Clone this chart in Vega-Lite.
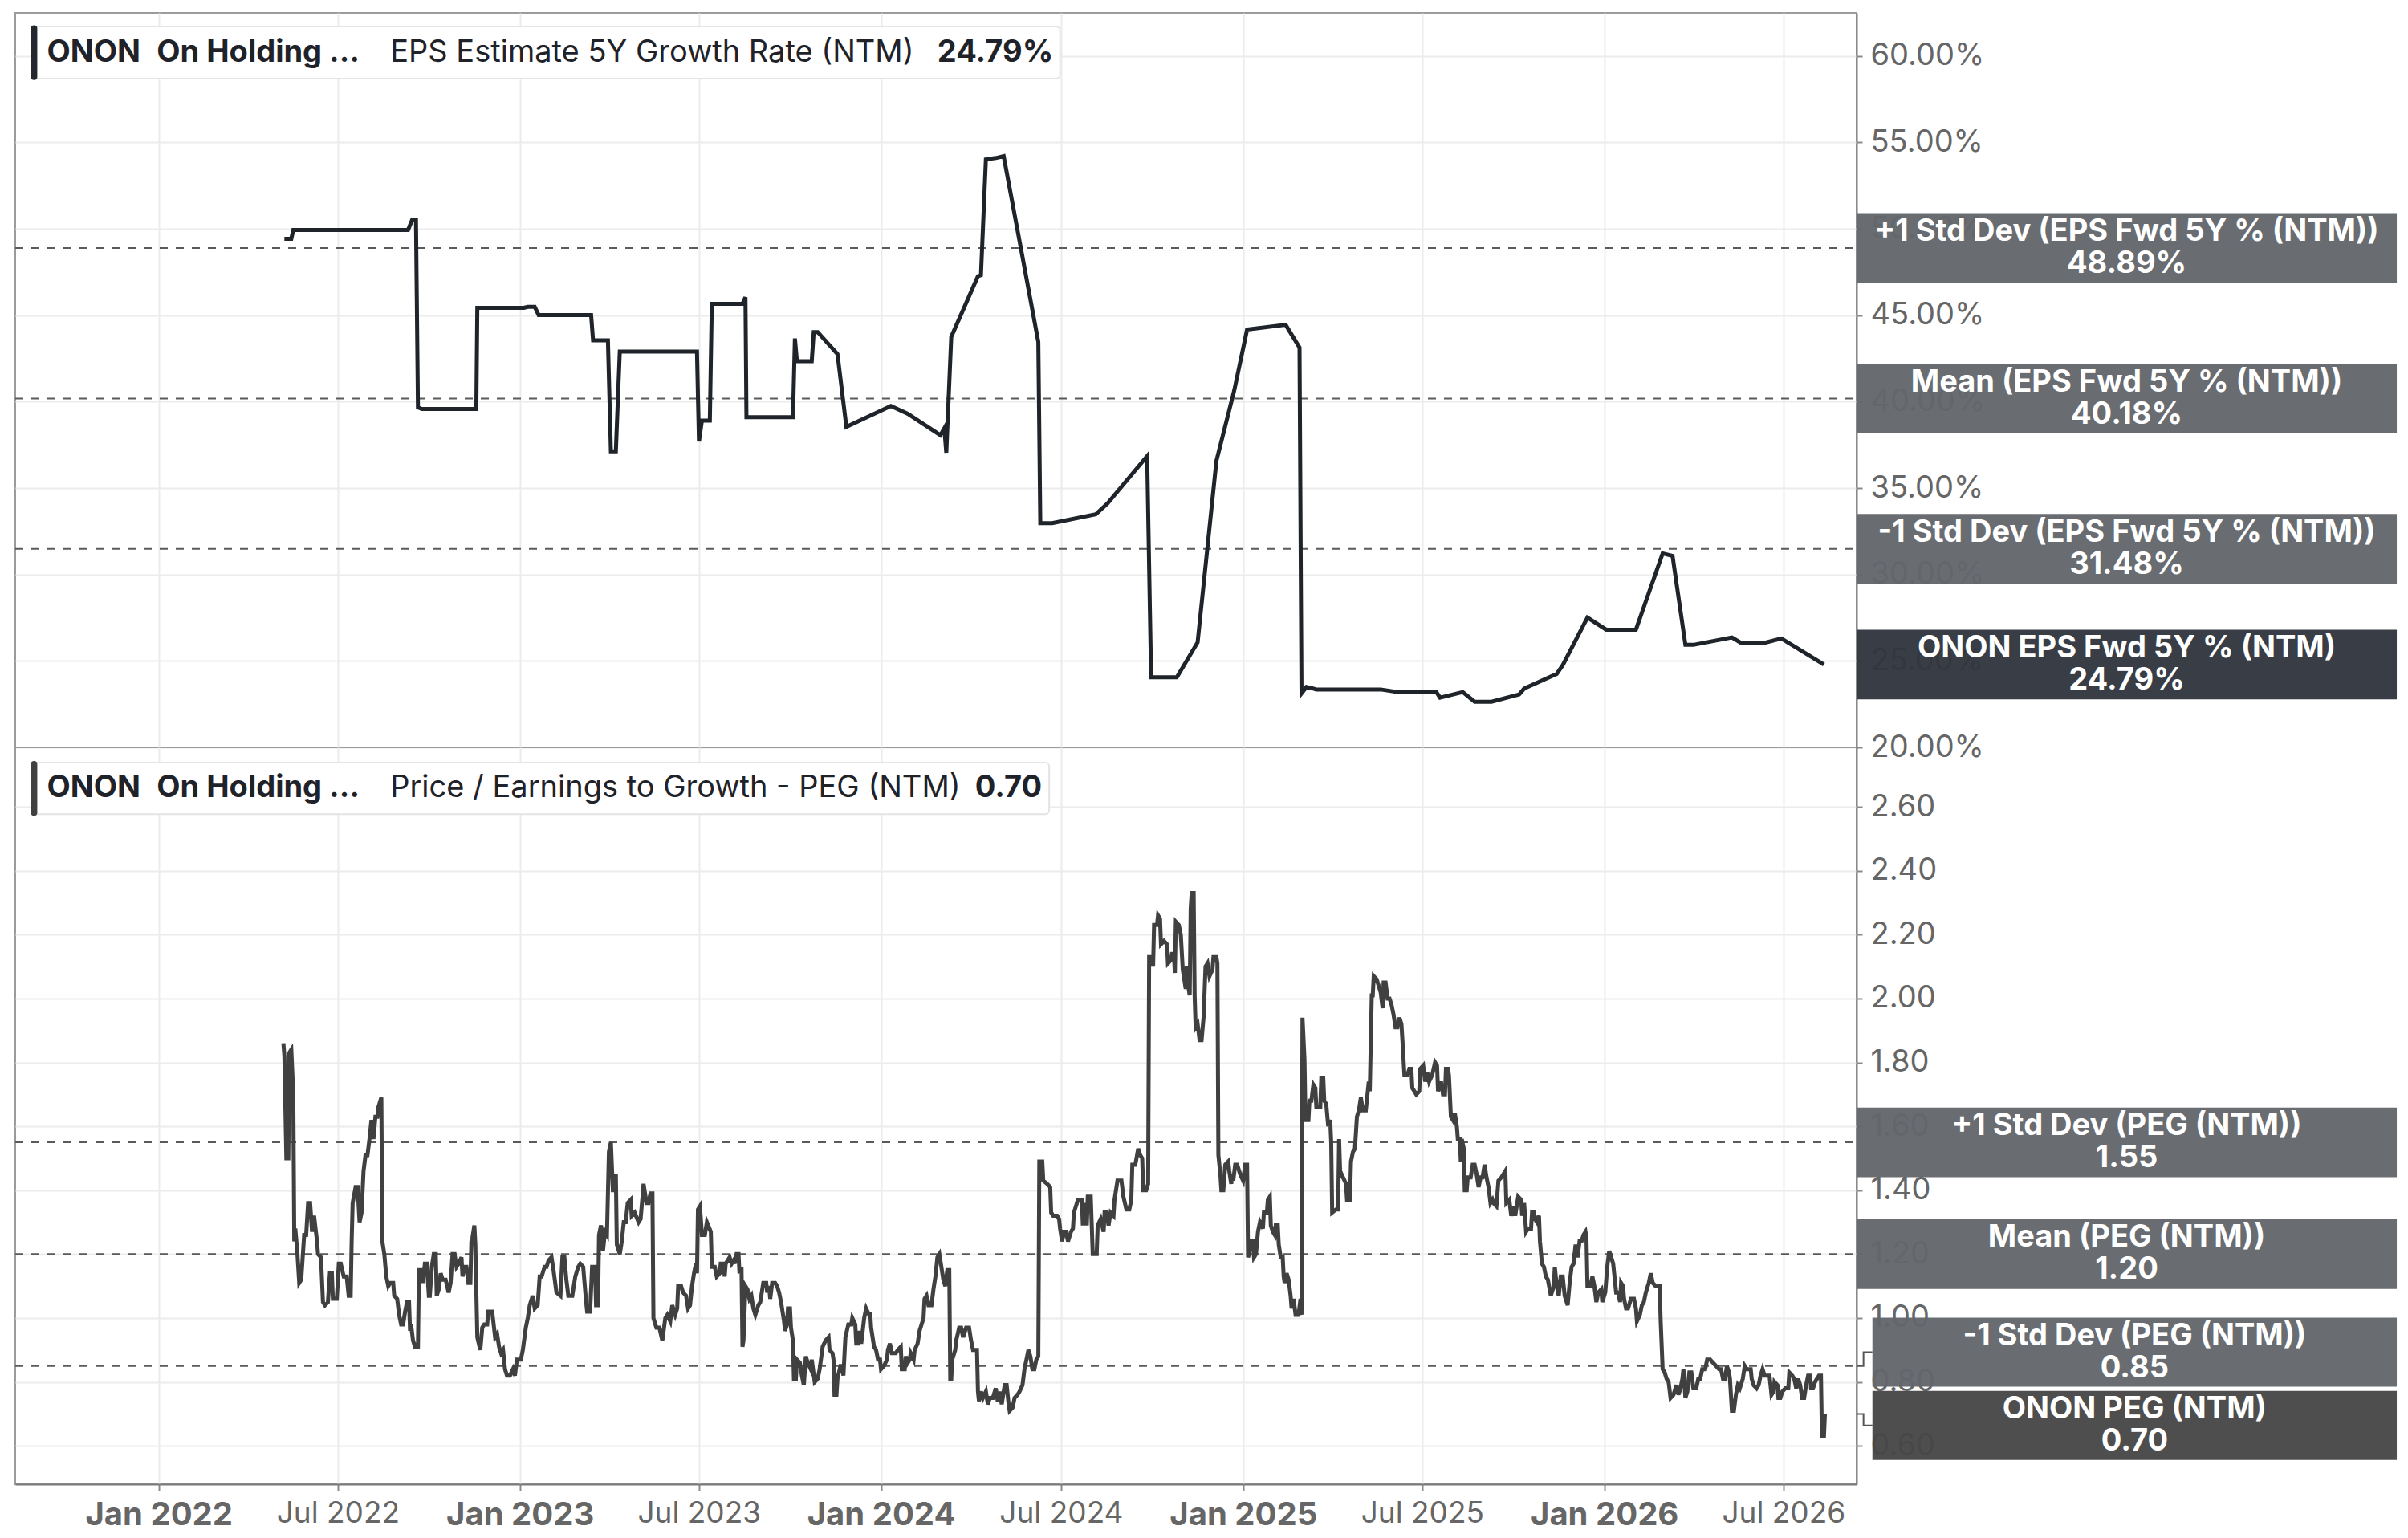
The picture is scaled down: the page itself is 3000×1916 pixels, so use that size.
{
  "$schema": "https://vega.github.io/schema/vega-lite/v6.json",
  "background": "white",
  "padding": {"left": 17, "top": 15, "right": 0, "bottom": 0},
  "autosize": {"type": "pad"},
  "spacing": 0,
  "bounds": "flush",
  "resolve": {"scale": {"x": "independent", "y": "independent"}},
  "config": {
    "font": "Inter",
    "view": {"stroke": "#9b9b9b", "strokeWidth": 2},
    "axis": {
      "labelFont": "Inter",
      "labelColor": "#666666",
      "labelFontSize": 38,
      "labelLimit": 0,
      "gridColor": "#ececec",
      "gridWidth": 2,
      "domainColor": "#7a7a7a",
      "domainWidth": 2,
      "tickColor": "#8a8a8a",
      "tickWidth": 2,
      "labelOverlap": false,
      "labelFlush": false
    }
  },
  "datasets": {
    "eps": [
      {"d":"2022-05-08","v":49.43},{"d":"2022-05-15","v":49.43},{"d":"2022-05-17","v":49.94},{"d":"2022-09-10","v":49.94},
      {"d":"2022-09-14","v":50.5},{"d":"2022-09-18","v":50.5},{"d":"2022-09-20","v":39.67},{"d":"2022-09-24","v":39.58},
      {"d":"2022-11-18","v":39.58},{"d":"2022-11-19","v":45.43},{"d":"2023-01-05","v":45.43},{"d":"2023-01-09","v":45.49},
      {"d":"2023-01-16","v":45.49},{"d":"2023-01-20","v":45.01},{"d":"2023-03-14","v":45.01},{"d":"2023-03-16","v":43.55},
      {"d":"2023-03-31","v":43.55},{"d":"2023-04-03","v":37.13},{"d":"2023-04-08","v":37.13},{"d":"2023-04-12","v":42.9},
      {"d":"2023-06-29","v":42.9},{"d":"2023-07-01","v":37.7},{"d":"2023-07-04","v":38.91},{"d":"2023-07-12","v":38.91},
      {"d":"2023-07-14","v":45.66},{"d":"2023-08-14","v":45.66},{"d":"2023-08-17","v":46.05},{"d":"2023-08-18","v":39.1},
      {"d":"2023-10-04","v":39.1},{"d":"2023-10-06","v":43.66},{"d":"2023-10-08","v":42.34},{"d":"2023-10-23","v":42.34},
      {"d":"2023-10-25","v":44.03},{"d":"2023-10-29","v":44.03},{"d":"2023-11-18","v":42.76},{"d":"2023-11-27","v":38.54},
      {"d":"2024-01-11","v":39.75},{"d":"2024-01-28","v":39.3},{"d":"2024-03-01","v":38.06},{"d":"2024-03-05","v":38.46},
      {"d":"2024-03-07","v":37.05},{"d":"2024-03-12","v":43.75},{"d":"2024-04-08","v":47.26},{"d":"2024-04-11","v":47.32},
      {"d":"2024-04-16","v":54.02},{"d":"2024-04-26","v":54.1},{"d":"2024-05-04","v":54.21},{"d":"2024-06-08","v":43.46},
      {"d":"2024-06-10","v":32.97},{"d":"2024-06-22","v":32.97},{"d":"2024-08-05","v":33.48},{"d":"2024-08-17","v":34.12},
      {"d":"2024-09-26","v":36.85},{"d":"2024-09-30","v":24.05},{"d":"2024-10-26","v":24.05},{"d":"2024-11-16","v":26.07},
      {"d":"2024-12-05","v":36.57},{"d":"2024-12-23","v":40.65},{"d":"2025-01-05","v":44.17},{"d":"2025-02-13","v":44.45},
      {"d":"2025-02-27","v":43.13},{"d":"2025-03-01","v":23.12},{"d":"2025-03-06","v":23.49},{"d":"2025-03-11","v":23.43},
      {"d":"2025-03-16","v":23.35},{"d":"2025-05-20","v":23.35},{"d":"2025-06-06","v":23.2},{"d":"2025-07-15","v":23.23},
      {"d":"2025-07-19","v":22.87},{"d":"2025-08-11","v":23.2},{"d":"2025-08-23","v":22.64},{"d":"2025-09-09","v":22.64},
      {"d":"2025-10-07","v":23.06},{"d":"2025-10-12","v":23.4},{"d":"2025-11-14","v":24.25},{"d":"2025-11-20","v":24.75},
      {"d":"2025-12-15","v":27.51},{"d":"2026-01-03","v":26.81},{"d":"2026-02-02","v":26.81},{"d":"2026-03-01","v":31.22},
      {"d":"2026-03-11","v":31.08},{"d":"2026-03-24","v":25.93},{"d":"2026-04-01","v":25.93},{"d":"2026-05-10","v":26.36},
      {"d":"2026-05-20","v":26.02},{"d":"2026-06-10","v":26.02},{"d":"2026-06-29","v":26.3},{"d":"2026-08-11","v":24.79}
    ],
    "peg": [
      {"d":"2022-05-07","v":1.86},{"d":"2022-05-08","v":1.82},{"d":"2022-05-10","v":1.5},{"d":"2022-05-12","v":1.5},
      {"d":"2022-05-13","v":1.83},{"d":"2022-05-15","v":1.84},{"d":"2022-05-17","v":1.7},{"d":"2022-05-18","v":1.24},
      {"d":"2022-05-19","v":1.28},{"d":"2022-05-21","v":1.21},{"d":"2022-05-23","v":1.11},{"d":"2022-05-25","v":1.12},
      {"d":"2022-05-28","v":1.26},{"d":"2022-05-30","v":1.26},{"d":"2022-06-01","v":1.36},{"d":"2022-06-03","v":1.36},
      {"d":"2022-06-05","v":1.27},{"d":"2022-06-07","v":1.32},{"d":"2022-06-10","v":1.24},{"d":"2022-06-11","v":1.2},
      {"d":"2022-06-14","v":1.19},{"d":"2022-06-16","v":1.05},{"d":"2022-06-18","v":1.04},{"d":"2022-06-21","v":1.05},
      {"d":"2022-06-23","v":1.14},{"d":"2022-06-25","v":1.14},{"d":"2022-06-26","v":1.06},{"d":"2022-06-30","v":1.06},
      {"d":"2022-07-02","v":1.17},{"d":"2022-07-04","v":1.17},{"d":"2022-07-07","v":1.13},{"d":"2022-07-10","v":1.13},
      {"d":"2022-07-12","v":1.07},{"d":"2022-07-14","v":1.07},{"d":"2022-07-15","v":1.24},{"d":"2022-07-16","v":1.36},
      {"d":"2022-07-19","v":1.41},{"d":"2022-07-21","v":1.41},{"d":"2022-07-23","v":1.3},{"d":"2022-07-25","v":1.33},
      {"d":"2022-07-27","v":1.46},{"d":"2022-07-29","v":1.51},{"d":"2022-07-31","v":1.51},{"d":"2022-08-02","v":1.56},
      {"d":"2022-08-04","v":1.62},{"d":"2022-08-06","v":1.56},{"d":"2022-08-08","v":1.63},{"d":"2022-08-10","v":1.63},
      {"d":"2022-08-11","v":1.66},{"d":"2022-08-14","v":1.69},{"d":"2022-08-15","v":1.24},{"d":"2022-08-17","v":1.2},
      {"d":"2022-08-19","v":1.13},{"d":"2022-08-21","v":1.1},{"d":"2022-08-23","v":1.11},{"d":"2022-08-26","v":1.11},
      {"d":"2022-08-27","v":1.07},{"d":"2022-08-30","v":1.06},{"d":"2022-09-01","v":1.01},{"d":"2022-09-03","v":0.98},
      {"d":"2022-09-05","v":0.98},{"d":"2022-09-07","v":1.02},{"d":"2022-09-09","v":1.05},{"d":"2022-09-11","v":1.05},
      {"d":"2022-09-12","v":0.96},{"d":"2022-09-13","v":0.98},{"d":"2022-09-15","v":0.93},{"d":"2022-09-17","v":0.91},
      {"d":"2022-09-20","v":0.91},{"d":"2022-09-21","v":1.15},{"d":"2022-09-24","v":1.15},{"d":"2022-09-25","v":1.11},
      {"d":"2022-09-27","v":1.17},{"d":"2022-09-29","v":1.17},{"d":"2022-10-01","v":1.07},{"d":"2022-10-02","v":1.07},
      {"d":"2022-10-04","v":1.16},{"d":"2022-10-06","v":1.2},{"d":"2022-10-08","v":1.2},{"d":"2022-10-09","v":1.07},
      {"d":"2022-10-11","v":1.09},{"d":"2022-10-13","v":1.14},{"d":"2022-10-15","v":1.12},{"d":"2022-10-18","v":1.12},
      {"d":"2022-10-21","v":1.08},{"d":"2022-10-23","v":1.11},{"d":"2022-10-25","v":1.2},{"d":"2022-10-27","v":1.2},
      {"d":"2022-10-29","v":1.16},{"d":"2022-10-31","v":1.17},{"d":"2022-11-03","v":1.19},{"d":"2022-11-04","v":1.13},
      {"d":"2022-11-06","v":1.16},{"d":"2022-11-08","v":1.16},{"d":"2022-11-10","v":1.11},{"d":"2022-11-12","v":1.11},
      {"d":"2022-11-13","v":1.24},{"d":"2022-11-14","v":1.25},{"d":"2022-11-16","v":1.29},{"d":"2022-11-17","v":1.23},
      {"d":"2022-11-19","v":0.94},{"d":"2022-11-22","v":0.9},{"d":"2022-11-24","v":0.97},{"d":"2022-11-26","v":0.98},
      {"d":"2022-11-29","v":0.98},{"d":"2022-11-30","v":1.02},{"d":"2022-12-04","v":1.02},{"d":"2022-12-07","v":0.94},
      {"d":"2022-12-09","v":0.95},{"d":"2022-12-11","v":0.91},{"d":"2022-12-13","v":0.89},{"d":"2022-12-15","v":0.9},
      {"d":"2022-12-17","v":0.84},{"d":"2022-12-19","v":0.82},{"d":"2022-12-22","v":0.82},{"d":"2022-12-25","v":0.84},
      {"d":"2022-12-27","v":0.82},{"d":"2022-12-29","v":0.87},{"d":"2023-01-02","v":0.87},{"d":"2023-01-04","v":0.9},
      {"d":"2023-01-07","v":0.97},{"d":"2023-01-09","v":1.0},{"d":"2023-01-11","v":1.04},{"d":"2023-01-14","v":1.07},
      {"d":"2023-01-16","v":1.03},{"d":"2023-01-19","v":1.04},{"d":"2023-01-21","v":1.13},{"d":"2023-01-23","v":1.13},
      {"d":"2023-01-26","v":1.16},{"d":"2023-01-28","v":1.16},{"d":"2023-01-30","v":1.18},{"d":"2023-02-02","v":1.19},
      {"d":"2023-02-04","v":1.15},{"d":"2023-02-07","v":1.08},{"d":"2023-02-11","v":1.07},{"d":"2023-02-13","v":1.19},
      {"d":"2023-02-15","v":1.19},{"d":"2023-02-17","v":1.12},{"d":"2023-02-19","v":1.07},{"d":"2023-02-23","v":1.07},
      {"d":"2023-02-26","v":1.13},{"d":"2023-03-01","v":1.16},{"d":"2023-03-03","v":1.17},{"d":"2023-03-06","v":1.16},
      {"d":"2023-03-09","v":1.05},{"d":"2023-03-10","v":1.02},{"d":"2023-03-13","v":1.02},{"d":"2023-03-15","v":1.16},
      {"d":"2023-03-18","v":1.16},{"d":"2023-03-19","v":1.04},{"d":"2023-03-21","v":1.04},{"d":"2023-03-22","v":1.26},
      {"d":"2023-03-24","v":1.29},{"d":"2023-03-26","v":1.21},{"d":"2023-03-28","v":1.27},{"d":"2023-03-30","v":1.26},
      {"d":"2023-04-01","v":1.52},{"d":"2023-04-03","v":1.55},{"d":"2023-04-05","v":1.4},{"d":"2023-04-07","v":1.4},
      {"d":"2023-04-08","v":1.45},{"d":"2023-04-09","v":1.23},{"d":"2023-04-12","v":1.2},{"d":"2023-04-14","v":1.24},
      {"d":"2023-04-16","v":1.3},{"d":"2023-04-18","v":1.3},{"d":"2023-04-20","v":1.36},{"d":"2023-04-23","v":1.37},
      {"d":"2023-04-24","v":1.32},{"d":"2023-04-27","v":1.33},{"d":"2023-05-01","v":1.3},{"d":"2023-05-03","v":1.31},
      {"d":"2023-05-05","v":1.38},{"d":"2023-05-06","v":1.42},{"d":"2023-05-09","v":1.36},{"d":"2023-05-11","v":1.36},
      {"d":"2023-05-13","v":1.39},{"d":"2023-05-15","v":1.39},{"d":"2023-05-16","v":1.0},{"d":"2023-05-19","v":0.97},
      {"d":"2023-05-22","v":0.97},{"d":"2023-05-25","v":0.93},{"d":"2023-05-28","v":1.0},{"d":"2023-05-30","v":1.01},
      {"d":"2023-06-02","v":0.99},{"d":"2023-06-04","v":1.04},{"d":"2023-06-07","v":1.01},{"d":"2023-06-09","v":1.03},
      {"d":"2023-06-10","v":1.1},{"d":"2023-06-13","v":1.1},{"d":"2023-06-15","v":1.08},{"d":"2023-06-18","v":1.07},
      {"d":"2023-06-20","v":1.03},{"d":"2023-06-22","v":1.04},{"d":"2023-06-24","v":1.1},{"d":"2023-06-26","v":1.14},
      {"d":"2023-06-28","v":1.17},{"d":"2023-06-29","v":1.14},{"d":"2023-06-30","v":1.34},{"d":"2023-07-02","v":1.35},
      {"d":"2023-07-04","v":1.26},{"d":"2023-07-07","v":1.26},{"d":"2023-07-09","v":1.3},{"d":"2023-07-13","v":1.27},
      {"d":"2023-07-14","v":1.16},{"d":"2023-07-17","v":1.16},{"d":"2023-07-19","v":1.13},{"d":"2023-07-22","v":1.14},
      {"d":"2023-07-23","v":1.17},{"d":"2023-07-26","v":1.17},{"d":"2023-07-27","v":1.13},{"d":"2023-07-28","v":1.17},
      {"d":"2023-08-01","v":1.19},{"d":"2023-08-03","v":1.17},{"d":"2023-08-05","v":1.18},{"d":"2023-08-06","v":1.17},
      {"d":"2023-08-08","v":1.2},{"d":"2023-08-10","v":1.2},{"d":"2023-08-11","v":1.14},{"d":"2023-08-13","v":1.16},
      {"d":"2023-08-14","v":0.91},{"d":"2023-08-15","v":0.93},{"d":"2023-08-17","v":1.1},{"d":"2023-08-19","v":1.09},
      {"d":"2023-08-21","v":1.06},{"d":"2023-08-23","v":1.07},{"d":"2023-08-25","v":1.03},{"d":"2023-08-27","v":1.01},
      {"d":"2023-08-30","v":1.04},{"d":"2023-09-01","v":1.05},{"d":"2023-09-04","v":1.11},{"d":"2023-09-07","v":1.11},
      {"d":"2023-09-08","v":1.08},{"d":"2023-09-10","v":1.1},{"d":"2023-09-11","v":1.06},{"d":"2023-09-13","v":1.11},
      {"d":"2023-09-16","v":1.11},{"d":"2023-09-18","v":1.1},{"d":"2023-09-20","v":1.08},{"d":"2023-09-22","v":1.05},
      {"d":"2023-09-25","v":0.99},{"d":"2023-09-26","v":0.96},{"d":"2023-09-28","v":0.98},{"d":"2023-09-29","v":1.03},
      {"d":"2023-10-01","v":1.03},{"d":"2023-10-02","v":0.97},{"d":"2023-10-04","v":0.93},{"d":"2023-10-05","v":0.81},
      {"d":"2023-10-07","v":0.81},{"d":"2023-10-08","v":0.87},{"d":"2023-10-11","v":0.86},{"d":"2023-10-13","v":0.82},
      {"d":"2023-10-15","v":0.79},{"d":"2023-10-17","v":0.88},{"d":"2023-10-19","v":0.86},{"d":"2023-10-22","v":0.84},
      {"d":"2023-10-23","v":0.87},{"d":"2023-10-26","v":0.8},{"d":"2023-10-29","v":0.81},{"d":"2023-10-31","v":0.84},
      {"d":"2023-11-03","v":0.91},{"d":"2023-11-06","v":0.93},{"d":"2023-11-09","v":0.94},{"d":"2023-11-10","v":0.9},
      {"d":"2023-11-13","v":0.89},{"d":"2023-11-14","v":0.87},{"d":"2023-11-15","v":0.76},{"d":"2023-11-17","v":0.76},
      {"d":"2023-11-18","v":0.81},{"d":"2023-11-21","v":0.85},{"d":"2023-11-23","v":0.85},{"d":"2023-11-24","v":0.82},
      {"d":"2023-11-26","v":0.94},{"d":"2023-11-29","v":0.98},{"d":"2023-12-02","v":0.98},{"d":"2023-12-03","v":1.0},
      {"d":"2023-12-06","v":0.98},{"d":"2023-12-07","v":0.92},{"d":"2023-12-09","v":0.92},{"d":"2023-12-10","v":0.96},
      {"d":"2023-12-12","v":0.92},{"d":"2023-12-15","v":1.0},{"d":"2023-12-17","v":1.03},{"d":"2023-12-20","v":1.01},
      {"d":"2023-12-21","v":1.02},{"d":"2023-12-22","v":0.97},{"d":"2023-12-25","v":0.91},{"d":"2023-12-27","v":0.9},
      {"d":"2023-12-29","v":0.87},{"d":"2023-12-31","v":0.87},{"d":"2024-01-01","v":0.84},{"d":"2024-01-04","v":0.85},
      {"d":"2024-01-07","v":0.87},{"d":"2024-01-08","v":0.9},{"d":"2024-01-10","v":0.92},{"d":"2024-01-12","v":0.89},
      {"d":"2024-01-16","v":0.89},{"d":"2024-01-18","v":0.9},{"d":"2024-01-21","v":0.91},{"d":"2024-01-22","v":0.84},
      {"d":"2024-01-25","v":0.84},{"d":"2024-01-26","v":0.88},{"d":"2024-01-28","v":0.86},{"d":"2024-01-30","v":0.87},
      {"d":"2024-01-31","v":0.89},{"d":"2024-02-03","v":0.87},{"d":"2024-02-04","v":0.9},{"d":"2024-02-07","v":0.92},
      {"d":"2024-02-09","v":0.96},{"d":"2024-02-11","v":0.98},{"d":"2024-02-13","v":1.0},{"d":"2024-02-14","v":1.06},
      {"d":"2024-02-16","v":1.07},{"d":"2024-02-18","v":1.04},{"d":"2024-02-21","v":1.04},{"d":"2024-02-23","v":1.09},
      {"d":"2024-02-25","v":1.13},{"d":"2024-02-27","v":1.19},{"d":"2024-02-29","v":1.2},{"d":"2024-03-01","v":1.18},
      {"d":"2024-03-04","v":1.12},{"d":"2024-03-06","v":1.1},{"d":"2024-03-08","v":1.15},{"d":"2024-03-10","v":1.15},
      {"d":"2024-03-11","v":0.81},{"d":"2024-03-12","v":0.81},{"d":"2024-03-13","v":0.87},{"d":"2024-03-16","v":0.9},
      {"d":"2024-03-17","v":0.93},{"d":"2024-03-20","v":0.97},{"d":"2024-03-22","v":0.97},{"d":"2024-03-24","v":0.94},
      {"d":"2024-03-27","v":0.97},{"d":"2024-03-30","v":0.97},{"d":"2024-04-01","v":0.93},{"d":"2024-04-03","v":0.9},
      {"d":"2024-04-07","v":0.9},{"d":"2024-04-08","v":0.77},{"d":"2024-04-09","v":0.74},{"d":"2024-04-11","v":0.77},
      {"d":"2024-04-13","v":0.75},{"d":"2024-04-16","v":0.77},{"d":"2024-04-18","v":0.73},{"d":"2024-04-20","v":0.75},
      {"d":"2024-04-23","v":0.75},{"d":"2024-04-26","v":0.78},{"d":"2024-04-28","v":0.74},{"d":"2024-04-30","v":0.77},
      {"d":"2024-05-02","v":0.73},{"d":"2024-05-05","v":0.79},{"d":"2024-05-07","v":0.79},{"d":"2024-05-09","v":0.73},
      {"d":"2024-05-10","v":0.71},{"d":"2024-05-13","v":0.72},{"d":"2024-05-15","v":0.75},{"d":"2024-05-18","v":0.76},
      {"d":"2024-05-20","v":0.77},{"d":"2024-05-23","v":0.79},{"d":"2024-05-25","v":0.84},{"d":"2024-05-27","v":0.87},
      {"d":"2024-05-29","v":0.9},{"d":"2024-05-31","v":0.88},{"d":"2024-06-02","v":0.84},{"d":"2024-06-04","v":0.84},
      {"d":"2024-06-06","v":0.87},{"d":"2024-06-08","v":0.88},{"d":"2024-06-09","v":1.49},{"d":"2024-06-12","v":1.49},
      {"d":"2024-06-13","v":1.43},{"d":"2024-06-17","v":1.42},{"d":"2024-06-20","v":1.41},{"d":"2024-06-21","v":1.33},
      {"d":"2024-06-23","v":1.32},{"d":"2024-06-27","v":1.32},{"d":"2024-06-29","v":1.31},{"d":"2024-06-30","v":1.28},
      {"d":"2024-07-02","v":1.24},{"d":"2024-07-04","v":1.27},{"d":"2024-07-06","v":1.27},{"d":"2024-07-08","v":1.24},
      {"d":"2024-07-11","v":1.27},{"d":"2024-07-13","v":1.28},{"d":"2024-07-14","v":1.33},{"d":"2024-07-17","v":1.36},
      {"d":"2024-07-18","v":1.37},{"d":"2024-07-22","v":1.37},{"d":"2024-07-23","v":1.29},{"d":"2024-07-25","v":1.36},
      {"d":"2024-07-27","v":1.29},{"d":"2024-07-28","v":1.38},{"d":"2024-07-31","v":1.38},{"d":"2024-08-02","v":1.2},
      {"d":"2024-08-06","v":1.2},{"d":"2024-08-07","v":1.29},{"d":"2024-08-10","v":1.31},{"d":"2024-08-13","v":1.27},
      {"d":"2024-08-14","v":1.33},{"d":"2024-08-16","v":1.33},{"d":"2024-08-18","v":1.29},{"d":"2024-08-20","v":1.33},
      {"d":"2024-08-23","v":1.32},{"d":"2024-08-24","v":1.37},{"d":"2024-08-27","v":1.43},{"d":"2024-08-31","v":1.43},
      {"d":"2024-09-02","v":1.38},{"d":"2024-09-05","v":1.34},{"d":"2024-09-08","v":1.34},{"d":"2024-09-10","v":1.37},
      {"d":"2024-09-11","v":1.48},{"d":"2024-09-14","v":1.48},{"d":"2024-09-17","v":1.53},{"d":"2024-09-19","v":1.51},
      {"d":"2024-09-21","v":1.5},{"d":"2024-09-22","v":1.4},{"d":"2024-09-25","v":1.4},{"d":"2024-09-27","v":1.42},
      {"d":"2024-09-28","v":2.13},{"d":"2024-10-01","v":2.13},{"d":"2024-10-02","v":2.1},{"d":"2024-10-03","v":2.23},
      {"d":"2024-10-06","v":2.23},{"d":"2024-10-07","v":2.26},{"d":"2024-10-09","v":2.25},{"d":"2024-10-10","v":2.17},
      {"d":"2024-10-13","v":2.18},{"d":"2024-10-16","v":2.17},{"d":"2024-10-17","v":2.11},{"d":"2024-10-20","v":2.12},
      {"d":"2024-10-21","v":2.14},{"d":"2024-10-23","v":2.14},{"d":"2024-10-24","v":2.08},{"d":"2024-10-25","v":2.24},
      {"d":"2024-10-28","v":2.23},{"d":"2024-10-30","v":2.2},{"d":"2024-11-01","v":2.09},{"d":"2024-11-04","v":2.03},
      {"d":"2024-11-05","v":2.1},{"d":"2024-11-06","v":2.05},{"d":"2024-11-08","v":2.01},{"d":"2024-11-09","v":2.28},
      {"d":"2024-11-10","v":2.33},{"d":"2024-11-12","v":2.33},{"d":"2024-11-13","v":2.01},{"d":"2024-11-14","v":1.91},
      {"d":"2024-11-16","v":1.92},{"d":"2024-11-18","v":1.87},{"d":"2024-11-20","v":1.87},{"d":"2024-11-22","v":1.94},
      {"d":"2024-11-24","v":2.1},{"d":"2024-11-26","v":2.11},{"d":"2024-11-28","v":2.07},{"d":"2024-12-01","v":2.09},
      {"d":"2024-12-02","v":2.13},{"d":"2024-12-05","v":2.13},{"d":"2024-12-06","v":2.11},{"d":"2024-12-07","v":1.51},
      {"d":"2024-12-09","v":1.45},{"d":"2024-12-10","v":1.4},{"d":"2024-12-12","v":1.4},{"d":"2024-12-14","v":1.48},
      {"d":"2024-12-17","v":1.49},{"d":"2024-12-18","v":1.46},{"d":"2024-12-20","v":1.42},{"d":"2024-12-21","v":1.45},
      {"d":"2024-12-22","v":1.43},{"d":"2024-12-24","v":1.48},{"d":"2024-12-26","v":1.48},{"d":"2024-12-29","v":1.45},
      {"d":"2025-01-01","v":1.43},{"d":"2025-01-03","v":1.48},{"d":"2025-01-05","v":1.48},{"d":"2025-01-06","v":1.19},
      {"d":"2025-01-07","v":1.2},{"d":"2025-01-09","v":1.24},{"d":"2025-01-11","v":1.24},{"d":"2025-01-12","v":1.19},
      {"d":"2025-01-14","v":1.2},{"d":"2025-01-16","v":1.27},{"d":"2025-01-18","v":1.3},{"d":"2025-01-21","v":1.28},
      {"d":"2025-01-22","v":1.33},{"d":"2025-01-25","v":1.33},{"d":"2025-01-26","v":1.37},{"d":"2025-01-28","v":1.38},
      {"d":"2025-01-29","v":1.29},{"d":"2025-01-31","v":1.27},{"d":"2025-02-02","v":1.26},{"d":"2025-02-03","v":1.29},
      {"d":"2025-02-05","v":1.29},{"d":"2025-02-06","v":1.23},{"d":"2025-02-08","v":1.19},{"d":"2025-02-10","v":1.19},
      {"d":"2025-02-11","v":1.13},{"d":"2025-02-12","v":1.11},{"d":"2025-02-14","v":1.14},{"d":"2025-02-16","v":1.12},
      {"d":"2025-02-18","v":1.07},{"d":"2025-02-19","v":1.03},{"d":"2025-02-21","v":1.06},{"d":"2025-02-23","v":1.01},
      {"d":"2025-02-26","v":1.01},{"d":"2025-02-28","v":1.06},{"d":"2025-03-01","v":1.01},{"d":"2025-03-02","v":1.94},
      {"d":"2025-03-04","v":1.81},{"d":"2025-03-05","v":1.62},{"d":"2025-03-08","v":1.62},{"d":"2025-03-09","v":1.68},
      {"d":"2025-03-11","v":1.68},{"d":"2025-03-13","v":1.73},{"d":"2025-03-15","v":1.72},{"d":"2025-03-16","v":1.66},
      {"d":"2025-03-20","v":1.66},{"d":"2025-03-21","v":1.75},{"d":"2025-03-23","v":1.75},{"d":"2025-03-24","v":1.68},
      {"d":"2025-03-26","v":1.67},{"d":"2025-03-28","v":1.6},{"d":"2025-03-30","v":1.62},{"d":"2025-03-31","v":1.55},
      {"d":"2025-04-01","v":1.33},{"d":"2025-04-05","v":1.34},{"d":"2025-04-07","v":1.34},{"d":"2025-04-08","v":1.56},
      {"d":"2025-04-09","v":1.46},{"d":"2025-04-12","v":1.44},{"d":"2025-04-15","v":1.42},{"d":"2025-04-16","v":1.37},
      {"d":"2025-04-19","v":1.37},{"d":"2025-04-20","v":1.49},{"d":"2025-04-22","v":1.52},{"d":"2025-04-24","v":1.53},
      {"d":"2025-04-26","v":1.63},{"d":"2025-04-28","v":1.65},{"d":"2025-04-30","v":1.69},{"d":"2025-05-02","v":1.65},
      {"d":"2025-05-05","v":1.65},{"d":"2025-05-06","v":1.68},{"d":"2025-05-08","v":1.74},{"d":"2025-05-09","v":1.71},
      {"d":"2025-05-11","v":2.01},{"d":"2025-05-12","v":2.01},{"d":"2025-05-13","v":2.07},{"d":"2025-05-16","v":2.06},
      {"d":"2025-05-18","v":2.04},{"d":"2025-05-20","v":2.02},{"d":"2025-05-22","v":1.97},{"d":"2025-05-23","v":2.05},
      {"d":"2025-05-25","v":2.05},{"d":"2025-05-27","v":2.0},{"d":"2025-05-29","v":2.0},{"d":"2025-05-31","v":1.98},
      {"d":"2025-06-02","v":1.95},{"d":"2025-06-04","v":1.91},{"d":"2025-06-06","v":1.91},{"d":"2025-06-08","v":1.94},
      {"d":"2025-06-10","v":1.92},{"d":"2025-06-11","v":1.87},{"d":"2025-06-13","v":1.76},{"d":"2025-06-16","v":1.76},
      {"d":"2025-06-18","v":1.78},{"d":"2025-06-20","v":1.78},{"d":"2025-06-21","v":1.72},{"d":"2025-06-25","v":1.7},
      {"d":"2025-06-28","v":1.71},{"d":"2025-06-29","v":1.78},{"d":"2025-07-02","v":1.79},{"d":"2025-07-04","v":1.74},
      {"d":"2025-07-06","v":1.77},{"d":"2025-07-08","v":1.74},{"d":"2025-07-11","v":1.76},{"d":"2025-07-14","v":1.8},
      {"d":"2025-07-16","v":1.79},{"d":"2025-07-17","v":1.71},{"d":"2025-07-20","v":1.74},{"d":"2025-07-22","v":1.7},
      {"d":"2025-07-24","v":1.7},{"d":"2025-07-25","v":1.78},{"d":"2025-07-27","v":1.78},{"d":"2025-07-28","v":1.76},
      {"d":"2025-07-30","v":1.63},{"d":"2025-08-01","v":1.62},{"d":"2025-08-03","v":1.64},{"d":"2025-08-05","v":1.6},
      {"d":"2025-08-06","v":1.56},{"d":"2025-08-08","v":1.56},{"d":"2025-08-09","v":1.49},{"d":"2025-08-10","v":1.56},
      {"d":"2025-08-12","v":1.53},{"d":"2025-08-13","v":1.4},{"d":"2025-08-15","v":1.4},{"d":"2025-08-16","v":1.44},
      {"d":"2025-08-19","v":1.44},{"d":"2025-08-21","v":1.48},{"d":"2025-08-23","v":1.48},{"d":"2025-08-25","v":1.45},
      {"d":"2025-08-27","v":1.41},{"d":"2025-08-29","v":1.44},{"d":"2025-08-31","v":1.44},{"d":"2025-09-02","v":1.48},
      {"d":"2025-09-04","v":1.44},{"d":"2025-09-06","v":1.41},{"d":"2025-09-08","v":1.36},{"d":"2025-09-10","v":1.37},
      {"d":"2025-09-11","v":1.36},{"d":"2025-09-14","v":1.35},{"d":"2025-09-16","v":1.43},{"d":"2025-09-19","v":1.44},
      {"d":"2025-09-23","v":1.46},{"d":"2025-09-24","v":1.36},{"d":"2025-09-27","v":1.37},{"d":"2025-09-29","v":1.32},
      {"d":"2025-10-02","v":1.35},{"d":"2025-10-03","v":1.32},{"d":"2025-10-06","v":1.38},{"d":"2025-10-09","v":1.37},
      {"d":"2025-10-10","v":1.32},{"d":"2025-10-12","v":1.36},{"d":"2025-10-14","v":1.27},{"d":"2025-10-16","v":1.28},
      {"d":"2025-10-19","v":1.28},{"d":"2025-10-20","v":1.33},{"d":"2025-10-22","v":1.33},{"d":"2025-10-23","v":1.31},
      {"d":"2025-10-25","v":1.3},{"d":"2025-10-27","v":1.32},{"d":"2025-10-28","v":1.24},{"d":"2025-10-30","v":1.17},
      {"d":"2025-11-01","v":1.16},{"d":"2025-11-03","v":1.13},{"d":"2025-11-05","v":1.12},{"d":"2025-11-08","v":1.07},
      {"d":"2025-11-11","v":1.1},{"d":"2025-11-12","v":1.16},{"d":"2025-11-14","v":1.1},{"d":"2025-11-16","v":1.07},
      {"d":"2025-11-18","v":1.13},{"d":"2025-11-20","v":1.13},{"d":"2025-11-22","v":1.07},{"d":"2025-11-25","v":1.04},
      {"d":"2025-11-27","v":1.11},{"d":"2025-11-29","v":1.16},{"d":"2025-12-01","v":1.17},{"d":"2025-12-03","v":1.23},
      {"d":"2025-12-05","v":1.19},{"d":"2025-12-07","v":1.24},{"d":"2025-12-09","v":1.24},{"d":"2025-12-11","v":1.26},
      {"d":"2025-12-13","v":1.27},{"d":"2025-12-14","v":1.25},{"d":"2025-12-15","v":1.1},{"d":"2025-12-18","v":1.1},
      {"d":"2025-12-20","v":1.13},{"d":"2025-12-22","v":1.1},{"d":"2025-12-24","v":1.05},{"d":"2025-12-26","v":1.08},
      {"d":"2025-12-29","v":1.09},{"d":"2025-12-30","v":1.05},{"d":"2026-01-02","v":1.08},{"d":"2026-01-04","v":1.16},
      {"d":"2026-01-06","v":1.21},{"d":"2026-01-08","v":1.19},{"d":"2026-01-10","v":1.17},{"d":"2026-01-12","v":1.11},
      {"d":"2026-01-13","v":1.08},{"d":"2026-01-15","v":1.08},{"d":"2026-01-17","v":1.05},{"d":"2026-01-18","v":1.11},
      {"d":"2026-01-20","v":1.1},{"d":"2026-01-21","v":1.06},{"d":"2026-01-23","v":1.03},{"d":"2026-01-25","v":1.03},
      {"d":"2026-01-28","v":1.06},{"d":"2026-01-31","v":1.06},{"d":"2026-02-02","v":1.03},{"d":"2026-02-03","v":0.99},
      {"d":"2026-02-06","v":1.01},{"d":"2026-02-08","v":1.04},{"d":"2026-02-10","v":1.05},{"d":"2026-02-12","v":1.08},
      {"d":"2026-02-15","v":1.11},{"d":"2026-02-17","v":1.14},{"d":"2026-02-19","v":1.11},{"d":"2026-02-22","v":1.1},
      {"d":"2026-02-24","v":1.1},{"d":"2026-02-26","v":1.1},{"d":"2026-02-27","v":0.99},{"d":"2026-03-01","v":0.84},
      {"d":"2026-03-03","v":0.83},{"d":"2026-03-05","v":0.81},{"d":"2026-03-07","v":0.8},{"d":"2026-03-09","v":0.75},
      {"d":"2026-03-12","v":0.76},{"d":"2026-03-15","v":0.79},{"d":"2026-03-17","v":0.76},{"d":"2026-03-19","v":0.78},
      {"d":"2026-03-21","v":0.81},{"d":"2026-03-22","v":0.84},{"d":"2026-03-24","v":0.75},{"d":"2026-03-26","v":0.77},
      {"d":"2026-03-28","v":0.83},{"d":"2026-03-30","v":0.83},{"d":"2026-04-01","v":0.78},{"d":"2026-04-04","v":0.78},
      {"d":"2026-04-06","v":0.81},{"d":"2026-04-08","v":0.81},{"d":"2026-04-10","v":0.84},{"d":"2026-04-13","v":0.84},
      {"d":"2026-04-15","v":0.87},{"d":"2026-04-18","v":0.87},{"d":"2026-04-21","v":0.86},{"d":"2026-04-24","v":0.85},
      {"d":"2026-04-27","v":0.84},{"d":"2026-04-29","v":0.84},{"d":"2026-05-01","v":0.81},{"d":"2026-05-03","v":0.81},
      {"d":"2026-05-05","v":0.85},{"d":"2026-05-07","v":0.83},{"d":"2026-05-08","v":0.81},{"d":"2026-05-10","v":0.71},
      {"d":"2026-05-12","v":0.71},{"d":"2026-05-14","v":0.76},{"d":"2026-05-16","v":0.79},{"d":"2026-05-18","v":0.78},
      {"d":"2026-05-21","v":0.81},{"d":"2026-05-23","v":0.85},{"d":"2026-05-25","v":0.84},{"d":"2026-05-29","v":0.84},
      {"d":"2026-05-30","v":0.81},{"d":"2026-06-01","v":0.79},{"d":"2026-06-04","v":0.78},{"d":"2026-06-06","v":0.79},
      {"d":"2026-06-08","v":0.82},{"d":"2026-06-10","v":0.84},{"d":"2026-06-12","v":0.82},{"d":"2026-06-15","v":0.82},
      {"d":"2026-06-17","v":0.82},{"d":"2026-06-19","v":0.76},{"d":"2026-06-21","v":0.77},{"d":"2026-06-22","v":0.8},
      {"d":"2026-06-25","v":0.79},{"d":"2026-06-26","v":0.75},{"d":"2026-06-28","v":0.75},{"d":"2026-06-30","v":0.77},
      {"d":"2026-07-03","v":0.78},{"d":"2026-07-06","v":0.78},{"d":"2026-07-07","v":0.83},{"d":"2026-07-10","v":0.82},
      {"d":"2026-07-12","v":0.81},{"d":"2026-07-14","v":0.78},{"d":"2026-07-16","v":0.81},{"d":"2026-07-18","v":0.79},
      {"d":"2026-07-20","v":0.75},{"d":"2026-07-22","v":0.75},{"d":"2026-07-24","v":0.79},{"d":"2026-07-26","v":0.82},
      {"d":"2026-07-28","v":0.82},{"d":"2026-07-29","v":0.78},{"d":"2026-07-31","v":0.78},{"d":"2026-08-02","v":0.8},
      {"d":"2026-08-04","v":0.81},{"d":"2026-08-06","v":0.82},{"d":"2026-08-08","v":0.82},{"d":"2026-08-09","v":0.63},
      {"d":"2026-08-11","v":0.63},{"d":"2026-08-12","v":0.7}
    ],
    "eps_stats": [
      {"d":"2021-08-09","d2":"2026-09-13","v":48.89},
      {"d":"2021-08-09","d2":"2026-09-13","v":40.18},
      {"d":"2021-08-09","d2":"2026-09-13","v":31.48}
    ],
    "peg_stats": [
      {"d":"2021-08-09","d2":"2026-09-13","v":1.55},
      {"d":"2021-08-09","d2":"2026-09-13","v":1.2},
      {"d":"2021-08-09","d2":"2026-09-13","v":0.85}
    ],
    "eps_boxes": [
      {"d":"2026-09-13","d2":"2028-03-12","v":46.87,"v2":50.91,"c":"#63666b"},
      {"d":"2026-09-13","d2":"2028-03-12","v":38.16,"v2":42.2,"c":"#63666b"},
      {"d":"2026-09-13","d2":"2028-03-12","v":29.46,"v2":33.5,"c":"#63666b"},
      {"d":"2026-09-13","d2":"2028-03-12","v":22.77,"v2":26.81,"c":"#31353d"}
    ],
    "eps_box_text": [
      {"d":"2027-06-13","v":48.89,"t1":"+1 Std Dev (EPS Fwd 5Y % (NTM))","t2":"48.89%"},
      {"d":"2027-06-13","v":40.18,"t1":"Mean (EPS Fwd 5Y % (NTM))","t2":"40.18%"},
      {"d":"2027-06-13","v":31.48,"t1":"-1 Std Dev (EPS Fwd 5Y % (NTM))","t2":"31.48%"},
      {"d":"2027-06-13","v":24.79,"t1":"ONON EPS Fwd 5Y % (NTM)","t2":"24.79%"}
    ],
    "peg_boxes": [
      {"d":"2026-09-13","d2":"2028-03-12","v":1.441,"v2":1.659,"c":"#63666b"},
      {"d":"2026-09-13","d2":"2028-03-12","v":1.091,"v2":1.309,"c":"#63666b"},
      {"d":"2026-09-29","d2":"2028-03-12","v":0.785,"v2":1.001,"c":"#63666b"},
      {"d":"2026-09-29","d2":"2028-03-12","v":0.556,"v2":0.772,"c":"#474747"}
    ],
    "peg_box_text": [
      {"d":"2027-06-13","v":1.55,"t1":"+1 Std Dev (PEG (NTM))","t2":"1.55"},
      {"d":"2027-06-13","v":1.2,"t1":"Mean (PEG (NTM))","t2":"1.20"},
      {"d":"2027-06-21","v":0.893,"t1":"-1 Std Dev (PEG (NTM))","t2":"0.85"},
      {"d":"2027-06-21","v":0.664,"t1":"ONON PEG (NTM)","t2":"0.70"}
    ],
    "peg_conn": [
      {"g":"a","o":1,"d":"2026-09-13","v":0.85},
      {"g":"a","o":2,"d":"2026-09-20","v":0.85},
      {"g":"a","o":3,"d":"2026-09-20","v":0.893},
      {"g":"a","o":4,"d":"2026-09-29","v":0.893},
      {"g":"b","o":1,"d":"2026-09-13","v":0.7},
      {"g":"b","o":2,"d":"2026-09-20","v":0.7},
      {"g":"b","o":3,"d":"2026-09-20","v":0.664},
      {"g":"b","o":4,"d":"2026-09-29","v":0.664}
    ],
    "eps_title_box": [{"d":"2021-08-26","d2":"2024-06-30","v":58.69,"v2":61.71}],
    "eps_title_bar": [{"d":"2021-08-28","v":58.8,"v2":61.6}],
    "eps_title": [
      {"d":"2021-09-10","v":60.2,"t":"ONON","w":"b"},
      {"d":"2021-12-30","v":60.2,"t":"On Holding …","w":"b"},
      {"d":"2022-08-23","v":60.2,"t":"EPS Estimate 5Y Growth Rate (NTM)","w":"n"},
      {"d":"2024-02-27","v":60.2,"t":"24.79%","w":"b"}
    ],
    "peg_title_box": [{"d":"2021-08-26","d2":"2024-06-19","v":2.577,"v2":2.738}],
    "peg_title_bar": [{"d":"2021-08-28","v":2.582,"v2":2.733}],
    "peg_title": [
      {"d":"2021-09-10","v":2.658,"t":"ONON","w":"b"},
      {"d":"2021-12-30","v":2.658,"t":"On Holding …","w":"b"},
      {"d":"2022-08-23","v":2.658,"t":"Price / Earnings to Growth - PEG (NTM)","w":"n"},
      {"d":"2024-04-05","v":2.658,"t":"0.70","w":"b"}
    ]
  },
  "vconcat": [
    {
      "width": 2294,
      "height": 915,
      "encoding": {
        "x": {
          "field": "d", "type": "temporal", "title": null,
          "scale": {"type": "utc", "nice": false, "domain": [{"year": 2021, "month": 8, "date": 9, "utc": true}, {"year": 2026, "month": 9, "date": 13, "utc": true}]},
          "axis": {
            "values": [
              {"year": 2022, "month": 1, "date": 1, "utc": true}, {"year": 2022, "month": 7, "date": 1, "utc": true},
              {"year": 2023, "month": 1, "date": 1, "utc": true}, {"year": 2023, "month": 7, "date": 1, "utc": true},
              {"year": 2024, "month": 1, "date": 1, "utc": true}, {"year": 2024, "month": 7, "date": 1, "utc": true},
              {"year": 2025, "month": 1, "date": 1, "utc": true}, {"year": 2025, "month": 7, "date": 1, "utc": true},
              {"year": 2026, "month": 1, "date": 1, "utc": true}, {"year": 2026, "month": 7, "date": 1, "utc": true}
            ],
            "labels": false, "ticks": false, "domain": false, "grid": true
          }
        },
        "y": {
          "field": "v", "type": "quantitative", "title": null,
          "scale": {"domain": [20, 62.5], "nice": false, "zero": false},
          "axis": {
            "orient": "right",
            "values": [20, 25, 30, 35, 40, 45, 50, 55, 60],
            "labelExpr": "format(datum.value, '.2f') + '%'",
            "grid": true, "tickSize": 7, "labelPadding": 10
          }
        }
      },
      "layer": [
        {
          "data": {"name": "eps_stats"},
          "mark": {"type": "rule", "color": "#5a5a5a", "strokeWidth": 2, "strokeDash": [10, 10]},
          "encoding": {"x2": {"field": "d2"}}
        },
        {
          "data": {"name": "eps"},
          "mark": {"type": "line", "color": "#1f232a", "strokeWidth": 5}
        },
        {
          "data": {"name": "eps_boxes"},
          "mark": {"type": "rect", "fillOpacity": 0.96},
          "encoding": {"x2": {"field": "d2"}, "y2": {"field": "v2"}, "fill": {"field": "c", "type": "nominal", "scale": null}}
        },
        {
          "data": {"name": "eps_box_text"},
          "mark": {"type": "text", "color": "white", "fontSize": 38, "fontWeight": "bold", "align": "center", "baseline": "middle", "dy": -20},
          "encoding": {"text": {"field": "t1"}}
        },
        {
          "data": {"name": "eps_box_text"},
          "mark": {"type": "text", "color": "white", "fontSize": 38, "fontWeight": "bold", "align": "center", "baseline": "middle", "dy": 20},
          "encoding": {"text": {"field": "t2"}}
        },
        {
          "data": {"name": "eps_title_box"},
          "mark": {"type": "rect", "fill": "white", "stroke": "#e4e4e4", "strokeWidth": 2, "cornerRadius": 5},
          "encoding": {"x2": {"field": "d2"}, "y2": {"field": "v2"}}
        },
        {
          "data": {"name": "eps_title_bar"},
          "mark": {"type": "rule", "color": "#23272e", "strokeWidth": 8, "strokeCap": "round"},
          "encoding": {"y2": {"field": "v2"}}
        },
        {
          "data": {"name": "eps_title"},
          "transform": [{"filter": "datum.w == 'b'"}],
          "mark": {"type": "text", "color": "#1f2329", "fontSize": 38, "fontWeight": "bold", "align": "left", "baseline": "middle"},
          "encoding": {"text": {"field": "t"}}
        },
        {
          "data": {"name": "eps_title"},
          "transform": [{"filter": "datum.w == 'n'"}],
          "mark": {"type": "text", "color": "#1f2329", "fontSize": 38, "fontWeight": "normal", "align": "left", "baseline": "middle"},
          "encoding": {"text": {"field": "t"}}
        }
      ]
    },
    {
      "width": 2294,
      "height": 918,
      "encoding": {
        "x": {
          "field": "d", "type": "temporal", "title": null,
          "scale": {"type": "utc", "nice": false, "domain": [{"year": 2021, "month": 8, "date": 9, "utc": true}, {"year": 2026, "month": 9, "date": 13, "utc": true}]},
          "axis": {
            "values": [
              {"year": 2022, "month": 1, "date": 1, "utc": true}, {"year": 2022, "month": 7, "date": 1, "utc": true},
              {"year": 2023, "month": 1, "date": 1, "utc": true}, {"year": 2023, "month": 7, "date": 1, "utc": true},
              {"year": 2024, "month": 1, "date": 1, "utc": true}, {"year": 2024, "month": 7, "date": 1, "utc": true},
              {"year": 2025, "month": 1, "date": 1, "utc": true}, {"year": 2025, "month": 7, "date": 1, "utc": true},
              {"year": 2026, "month": 1, "date": 1, "utc": true}, {"year": 2026, "month": 7, "date": 1, "utc": true}
            ],
            "format": "%b %Y",
            "grid": true, "tickSize": 8, "labelPadding": 10,
            "labelFontWeight": {"condition": {"test": "utcmonth(datum.value) == 0", "value": "bold"}, "value": "normal"},
            "labelFontSize": {"condition": {"test": "utcmonth(datum.value) == 0", "value": 40}, "value": 37}
          }
        },
        "y": {
          "field": "v", "type": "quantitative", "title": null,
          "scale": {"domain": [0.48, 2.786], "nice": false, "zero": false},
          "axis": {
            "orient": "right",
            "values": [0.6, 0.8, 1.0, 1.2, 1.4, 1.6, 1.8, 2.0, 2.2, 2.4, 2.6],
            "format": ".2f",
            "grid": true, "tickSize": 7, "labelPadding": 10
          }
        }
      },
      "layer": [
        {
          "data": {"name": "peg_stats"},
          "mark": {"type": "rule", "color": "#5a5a5a", "strokeWidth": 2, "strokeDash": [10, 10]},
          "encoding": {"x2": {"field": "d2"}}
        },
        {
          "data": {"name": "peg"},
          "mark": {"type": "line", "color": "#404040", "strokeWidth": 5}
        },
        {
          "data": {"name": "peg_conn"},
          "mark": {"type": "line", "color": "#555555", "strokeWidth": 2},
          "encoding": {"detail": {"field": "g"}, "order": {"field": "o", "type": "quantitative"}}
        },
        {
          "data": {"name": "peg_boxes"},
          "mark": {"type": "rect", "fillOpacity": 0.96},
          "encoding": {"x2": {"field": "d2"}, "y2": {"field": "v2"}, "fill": {"field": "c", "type": "nominal", "scale": null}}
        },
        {
          "data": {"name": "peg_box_text"},
          "mark": {"type": "text", "color": "white", "fontSize": 38, "fontWeight": "bold", "align": "center", "baseline": "middle", "dy": -20},
          "encoding": {"text": {"field": "t1"}}
        },
        {
          "data": {"name": "peg_box_text"},
          "mark": {"type": "text", "color": "white", "fontSize": 38, "fontWeight": "bold", "align": "center", "baseline": "middle", "dy": 20},
          "encoding": {"text": {"field": "t2"}}
        },
        {
          "data": {"name": "peg_title_box"},
          "mark": {"type": "rect", "fill": "white", "stroke": "#e4e4e4", "strokeWidth": 2, "cornerRadius": 5},
          "encoding": {"x2": {"field": "d2"}, "y2": {"field": "v2"}}
        },
        {
          "data": {"name": "peg_title_bar"},
          "mark": {"type": "rule", "color": "#404040", "strokeWidth": 8, "strokeCap": "round"},
          "encoding": {"y2": {"field": "v2"}}
        },
        {
          "data": {"name": "peg_title"},
          "transform": [{"filter": "datum.w == 'b'"}],
          "mark": {"type": "text", "color": "#1f2329", "fontSize": 38, "fontWeight": "bold", "align": "left", "baseline": "middle"},
          "encoding": {"text": {"field": "t"}}
        },
        {
          "data": {"name": "peg_title"},
          "transform": [{"filter": "datum.w == 'n'"}],
          "mark": {"type": "text", "color": "#1f2329", "fontSize": 38, "fontWeight": "normal", "align": "left", "baseline": "middle"},
          "encoding": {"text": {"field": "t"}}
        }
      ]
    }
  ]
}
